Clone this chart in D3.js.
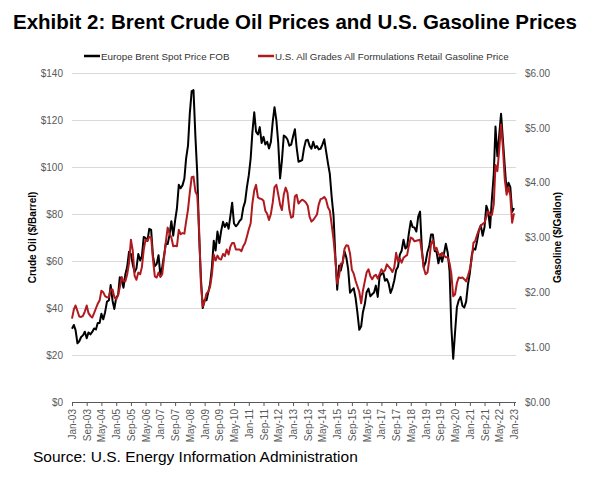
<!DOCTYPE html>
<html>
<head>
<meta charset="utf-8">
<script src="https://cdn.jsdelivr.net/npm/d3@7"></script>
<style>
  body { margin: 0; background: #fff; }
  text { font-family: "Liberation Sans", Arial, sans-serif; }
</style>
</head>
<body>
<div id="chart"></div>
<script>
// monthly, Jan-03 .. Jan-23
const brent = [
  31.18, 32.77, 30.61, 25.00, 25.86, 27.65, 28.35, 29.89, 27.11, 29.61, 28.75, 29.81,
  31.28, 30.86, 33.63, 33.59, 37.57, 35.18, 38.22, 42.74, 43.20, 49.78, 43.11, 39.60,
  44.51, 45.48, 53.10, 51.88, 48.65, 54.35, 57.52, 63.98, 62.91, 58.54, 55.24, 56.86,
  62.99, 60.21, 62.06, 70.26, 69.78, 68.56, 73.67, 73.23, 61.96, 57.81, 58.76, 62.47,
  53.68, 57.56, 62.05, 67.49, 67.21, 71.05, 76.93, 70.76, 77.17, 82.34, 92.41, 90.93,
  92.18, 94.99, 103.64, 109.07, 122.80, 132.32, 132.72, 113.24, 97.23, 71.58, 52.45, 39.95,
  43.44, 43.32, 46.54, 50.18, 57.30, 68.61, 64.44, 72.51, 67.65, 72.77, 76.66, 74.46,
  76.17, 73.75, 78.83, 84.82, 75.95, 74.76, 75.58, 77.04, 77.84, 82.67, 85.28, 91.45,
  96.52, 103.72, 114.64, 123.26, 114.99, 113.83, 116.97, 110.22, 112.83, 109.55, 110.77, 107.87,
  110.69, 119.33, 125.45, 119.75, 110.34, 95.16, 102.62, 113.36, 112.86, 111.71, 109.06, 109.49,
  112.96, 116.05, 108.47, 102.25, 102.56, 102.92, 107.93, 111.28, 111.60, 109.08, 107.79, 110.76,
  108.12, 108.90, 107.48, 107.76, 109.54, 111.80, 106.77, 101.61, 97.09, 87.43, 79.44, 62.34,
  47.76, 58.10, 55.89, 59.52, 64.08, 61.48, 56.56, 46.52, 47.62, 48.43, 44.27, 38.01,
  30.70, 32.18, 38.21, 41.58, 46.74, 48.25, 44.95, 45.84, 46.57, 49.52, 44.73, 53.31,
  54.58, 54.87, 51.59, 52.31, 50.33, 46.37, 48.48, 51.70, 56.15, 57.51, 62.71, 64.37,
  69.08, 65.32, 66.02, 72.11, 76.98, 74.41, 74.25, 72.53, 78.89, 81.03, 64.75, 57.36,
  59.41, 63.96, 66.14, 71.23, 71.32, 64.22, 63.92, 59.04, 62.83, 59.71, 63.21, 67.31,
  63.65, 55.66, 32.01, 18.38, 29.38, 40.27, 43.24, 44.74, 40.91, 40.19, 42.69, 49.99,
  54.77, 62.28, 65.41, 64.81, 68.53, 73.16, 75.17, 70.75, 74.49, 83.54, 81.05, 74.17,
  86.51, 97.13, 117.25, 104.58, 113.34, 122.71, 111.93, 100.45, 89.76, 93.33, 91.42, 80.92,
  82.50
];

const gasoline = [
  1.52, 1.69, 1.76, 1.66, 1.56, 1.55, 1.57, 1.65, 1.76, 1.62, 1.57, 1.54,
  1.62, 1.71, 1.79, 1.85, 2.03, 2.00, 1.93, 1.91, 1.91, 2.05, 2.05, 1.91,
  1.87, 1.95, 2.09, 2.28, 2.20, 2.20, 2.33, 2.54, 2.96, 2.76, 2.30, 2.23,
  2.36, 2.33, 2.46, 2.78, 2.96, 2.94, 3.01, 3.00, 2.59, 2.29, 2.27, 2.36,
  2.28, 2.33, 2.62, 2.92, 3.18, 3.07, 3.00, 2.84, 2.85, 2.84, 3.14, 3.06,
  3.08, 3.07, 3.29, 3.51, 3.82, 4.10, 4.11, 3.84, 3.77, 3.17, 2.15, 1.74,
  1.84, 1.98, 2.01, 2.10, 2.32, 2.69, 2.58, 2.67, 2.61, 2.60, 2.70, 2.66,
  2.78, 2.69, 2.83, 2.90, 2.90, 2.78, 2.78, 2.78, 2.75, 2.84, 2.90, 3.02,
  3.15, 3.26, 3.62, 3.86, 3.96, 3.73, 3.71, 3.70, 3.67, 3.49, 3.43, 3.32,
  3.43, 3.64, 3.92, 3.96, 3.79, 3.60, 3.50, 3.78, 3.91, 3.82, 3.51, 3.36,
  3.38, 3.75, 3.78, 3.62, 3.66, 3.69, 3.67, 3.64, 3.58, 3.38, 3.29, 3.32,
  3.37, 3.42, 3.60, 3.70, 3.71, 3.74, 3.69, 3.55, 3.49, 3.24, 2.97, 2.61,
  2.16, 2.30, 2.52, 2.53, 2.79, 2.86, 2.85, 2.71, 2.41, 2.34, 2.21, 2.11,
  2.01, 1.80, 2.03, 2.20, 2.36, 2.42, 2.30, 2.24, 2.30, 2.32, 2.25, 2.33,
  2.42, 2.37, 2.40, 2.51, 2.47, 2.43, 2.37, 2.45, 2.72, 2.56, 2.62, 2.54,
  2.63, 2.66, 2.68, 2.86, 3.00, 2.98, 2.93, 2.94, 2.95, 2.96, 2.73, 2.45,
  2.33, 2.36, 2.58, 2.88, 2.95, 2.78, 2.81, 2.70, 2.66, 2.72, 2.67, 2.64,
  2.64, 2.53, 2.34, 1.93, 1.96, 2.17, 2.27, 2.26, 2.27, 2.24, 2.20, 2.30,
  2.42, 2.60, 2.90, 2.94, 3.05, 3.14, 3.21, 3.25, 3.27, 3.38, 3.48, 3.41,
  3.41, 3.61, 4.32, 4.21, 4.59, 5.06, 4.65, 4.07, 3.78, 3.92, 3.76, 3.27,
  3.44
];

const startMonth = new Date(2003, 0, 1);
const endMonth = new Date(2023, 0, 1);
const leftTicks = [0, 20, 40, 60, 80, 100, 120, 140];
const rightTicks = [0, 1, 2, 3, 4, 5, 6];
const seriesNames = ['Europe Brent Spot Price FOB', 'U.S. All Grades All Formulations Retail Gasoline Price'];
const seriesColors = ['#000000', '#b01a1f'];

const W = 600, H = 480;
const margin = { top: 73, left: 72, right: 84, bottom: 78 };
const width = W - margin.left - margin.right;
const height = H - margin.top - margin.bottom;

const months = d3.timeMonth.range(startMonth, d3.timeMonth.offset(endMonth, 1));
const tickDates = months.filter((d, i) => i % 8 === 0);

const svg = d3.select('#chart').append('svg')
  .attr('width', W)
  .attr('height', H);

// title
svg.append('text')
  .attr('x', 13)
  .attr('y', 29)
  .style('font-size', '20.5px')
  .style('font-weight', 'bold')
  .style('fill', '#000')
  .text('Exhibit 2: Brent Crude Oil Prices and U.S. Gasoline Prices');

const g = svg.append('g')
  .attr('transform', `translate(${margin.left},${margin.top})`);

const x = d3.scaleTime()
  .domain([startMonth, endMonth])
  .range([0, width - 2]);

const yL = d3.scaleLinear().domain([0, 140]).range([height, 0]);
const yR = d3.scaleLinear().domain([0, 6]).range([height, 0]);

// gridlines
g.append('g')
  .selectAll('line')
  .data(leftTicks.filter(d => d > 0))
  .enter()
  .append('line')
  .attr('x1', 0)
  .attr('x2', width)
  .attr('y1', d => Math.round(yL(d)) + 0.5)
  .attr('y2', d => Math.round(yL(d)) + 0.5)
  .attr('stroke', '#d9d9d9')
  .attr('stroke-width', 1);

// left axis labels
const leftAxis = d3.axisLeft(yL).tickValues(leftTicks).tickSize(0).tickPadding(9)
  .tickFormat(d => '$' + d);
const la = g.append('g').call(leftAxis);
la.select('.domain').remove();
la.selectAll('text').style('font-size', '10px').style('fill', '#595959')
  .style('font-family', '"Liberation Sans", Arial, sans-serif');

// right axis labels
const rightAxis = d3.axisRight(yR).tickValues(rightTicks).tickSize(0).tickPadding(9)
  .tickFormat(d => '$' + d.toFixed(2));
const ra = g.append('g').attr('transform', `translate(${width},0)`).call(rightAxis);
ra.select('.domain').remove();
ra.selectAll('text').style('font-size', '10px').style('fill', '#595959')
  .style('font-family', '"Liberation Sans", Arial, sans-serif');

// x axis
const xAxis = d3.axisBottom(x).tickValues(tickDates).tickSize(4).tickSizeOuter(0)
  .tickFormat(d3.timeFormat('%b-%y'));
const xa = g.append('g').attr('transform', `translate(0,${height})`).call(xAxis);
xa.select('.domain').attr('stroke', '#595959').attr('d', `M0,0.5H${width}`);
xa.selectAll('.tick line').attr('stroke', '#595959');
xa.selectAll('text')
  .style('font-size', '10px')
  .style('fill', '#595959')
  .style('font-family', '"Liberation Sans", Arial, sans-serif')
  .style('text-anchor', 'end')
  .attr('transform', 'rotate(-90)')
  .attr('x', -7)
  .attr('y', 0)
  .attr('dy', '0.35em');

// axis titles
svg.append('text')
  .attr('transform', `translate(36,${margin.top + height / 2}) rotate(-90)`)
  .style('text-anchor', 'middle')
  .style('font-size', '10px')
  .style('font-weight', 'bold')
  .style('fill', '#000')
  .text('Crude Oil ($/Barrel)');

svg.append('text')
  .attr('transform', `translate(561,${margin.top + height / 2}) rotate(-90)`)
  .style('text-anchor', 'middle')
  .style('font-size', '10px')
  .style('font-weight', 'bold')
  .style('fill', '#000')
  .text('Gasoline ($/Gallon)');

// lines
const brentLine = d3.line()
  .x((d, i) => x(months[i]))
  .y(d => yL(d));

const gasLine = d3.line()
  .x((d, i) => x(months[i]))
  .y(d => yR(d));

g.append('path')
  .datum(brent)
  .attr('fill', 'none')
  .attr('stroke', seriesColors[0])
  .attr('stroke-width', 2)
  .attr('stroke-linejoin', 'round')
  .attr('d', brentLine);

g.append('path')
  .datum(gasoline)
  .attr('fill', 'none')
  .attr('stroke', seriesColors[1])
  .attr('stroke-width', 2)
  .attr('stroke-linejoin', 'round')
  .attr('d', gasLine);

// legend
const legendPos = [84, 258];
const legend = svg.append('g');
seriesNames.forEach((name, i) => {
  legend.append('line')
    .attr('x1', legendPos[i])
    .attr('x2', legendPos[i] + 16)
    .attr('y1', 56)
    .attr('y2', 56)
    .attr('stroke', seriesColors[i])
    .attr('stroke-width', 2.5);
  legend.append('text')
    .attr('x', legendPos[i] + 17)
    .attr('y', 59.5)
    .style('font-size', '9.8px')
    .style('fill', '#333')
    .text(name);
});

// source
svg.append('text')
  .attr('x', 33)
  .attr('y', 462)
  .style('font-size', '15.5px')
  .style('fill', '#000')
  .text('Source: U.S. Energy Information Administration');
</script>
</body>
</html>
